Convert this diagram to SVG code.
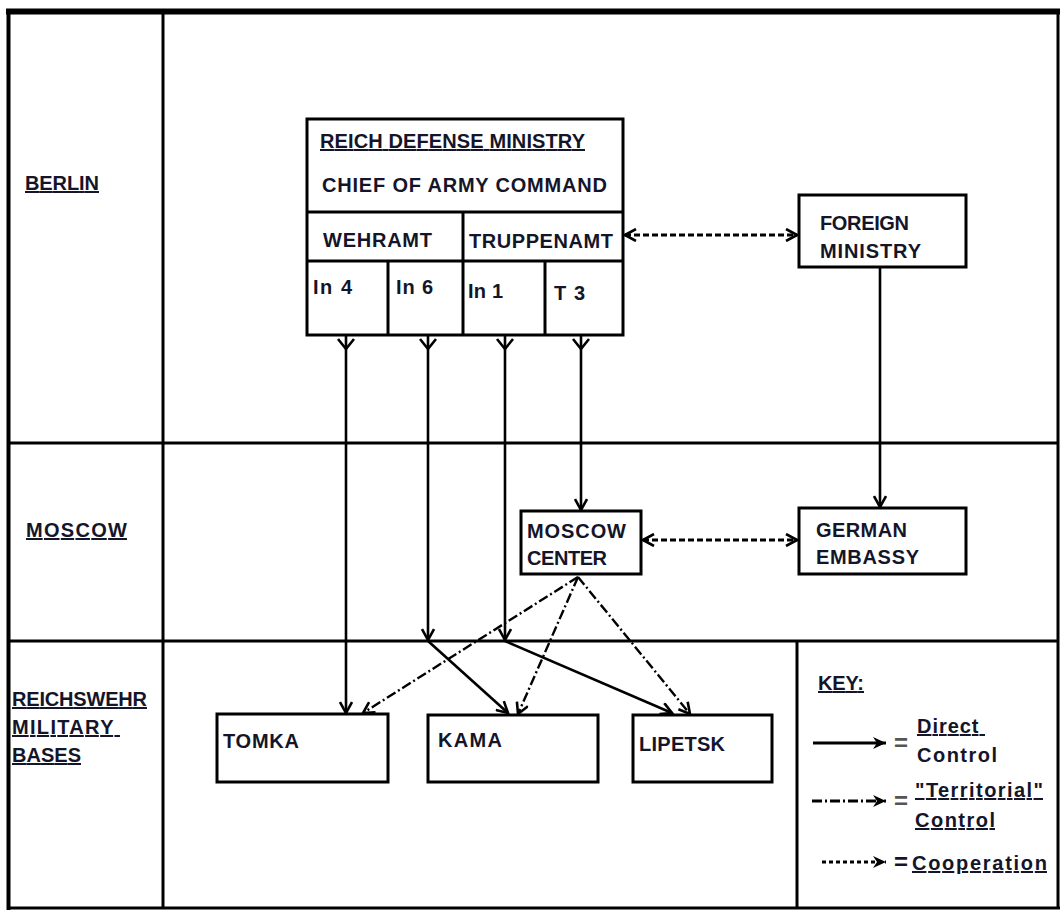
<svg xmlns="http://www.w3.org/2000/svg" width="1062" height="914" viewBox="0 0 1062 914">
<defs>
<style>
.t{font-family:"Liberation Sans",Arial,sans-serif;font-weight:bold;font-size:20px;fill:#15152a}
.u{text-decoration:underline}
.frame{stroke:#000;stroke-width:3;fill:none}
.box{fill:#fff;stroke:#000;stroke-width:3}
.solid{stroke:#000;stroke-width:2.6;fill:none}
.tdash{stroke:#000;stroke-width:2.4;fill:none;stroke-dasharray:10 3 2 3}
.coop{stroke:#000;stroke-width:2.8;fill:none;stroke-dasharray:6 3}
</style>
<marker id="ah" markerUnits="userSpaceOnUse" markerWidth="14" markerHeight="14" viewBox="0 0 14 14" refX="12" refY="7" orient="auto-start-reverse">
<path d="M1,1 L12,7 L1,13" fill="none" stroke="#000" stroke-width="2.6"/>
</marker>
<marker id="kf" markerUnits="userSpaceOnUse" markerWidth="14" markerHeight="14" viewBox="0 0 14 14" refX="13" refY="7" orient="auto">
<path d="M0,1 L13,7 L0,13 L4,7 z" fill="#000"/>
</marker>
</defs>
<rect width="1062" height="914" fill="#fff"/>

<g id="frame">
<line class="frame" x1="6" y1="11.5" x2="1060" y2="11.5" style="stroke-width:6"/>
<line class="frame" x1="8.5" y1="9" x2="8.5" y2="910" style="stroke-width:4"/>
<line class="frame" x1="1058" y1="9" x2="1058" y2="909"/>
<line class="frame" x1="7" y1="908" x2="1060" y2="908"/>
<line class="frame" x1="163" y1="12" x2="163" y2="908"/>
<line class="frame" x1="8" y1="443" x2="1058" y2="443"/>
<line class="frame" x1="8" y1="641" x2="1058" y2="641"/>
<line class="frame" x1="797" y1="641" x2="797" y2="908"/>
</g>

<g id="row-labels">
<text class="t u" x="25" y="190" textLength="74">BERLIN</text>
<text class="t u" x="26" y="537" textLength="101">MOSCOW</text>
<text class="t u" x="12" y="706" textLength="135">REICHSWEHR</text>
<text class="t u" x="12" y="734" textLength="108" xml:space="preserve">MILITARY </text>
<text class="t u" x="12" y="762" textLength="69">BASES</text>
</g>

<g id="reich-defense-ministry">
<rect class="box" x="307" y="119" width="316" height="216"/>
<line class="frame" x1="307" y1="212" x2="623" y2="212"/>
<line class="frame" x1="307" y1="261" x2="623" y2="261"/>
<line class="frame" x1="463" y1="212" x2="463" y2="335"/>
<line class="frame" x1="388" y1="261" x2="388" y2="335"/>
<line class="frame" x1="545" y1="261" x2="545" y2="335"/>
<text class="t u" x="320" y="148" textLength="265">REICH DEFENSE MINISTRY</text>
<text class="t" x="322" y="192" textLength="285">CHIEF OF ARMY COMMAND</text>
<text class="t" x="323" y="247" textLength="109">WEHRAMT</text>
<text class="t" x="469" y="248" textLength="144">TRUPPENAMT</text>
<text class="t" x="313" y="294" textLength="39">In 4</text>
<text class="t" x="396" y="294" textLength="37">In 6</text>
<text class="t" x="468" y="298" textLength="35">In 1</text>
<text class="t" x="554" y="300" textLength="31">T 3</text>
</g>

<g id="foreign-ministry">
<rect class="box" x="799" y="195" width="167" height="72"/>
<text class="t" x="820" y="230" textLength="89">FOREIGN</text>
<text class="t" x="820" y="258" textLength="101">MINISTRY</text>
</g>

<g id="german-embassy">
<rect class="box" x="799" y="508" width="167" height="66"/>
<text class="t" x="816" y="537" textLength="91">GERMAN</text>
<text class="t" x="816" y="564" textLength="103">EMBASSY</text>
</g>

<g id="moscow-center">
<rect class="box" x="521" y="511" width="120" height="63"/>
<text class="t" x="527" y="538" textLength="99">MOSCOW</text>
<text class="t" x="527" y="565" textLength="80">CENTER</text>
</g>

<g id="tomka">
<rect class="box" x="217" y="714" width="171" height="68"/>
<text class="t" x="223" y="748" textLength="76">TOMKA</text>
</g>
<g id="kama">
<rect class="box" x="428" y="715" width="170" height="67"/>
<text class="t" x="438" y="747" textLength="64">KAMA</text>
</g>
<g id="lipetsk">
<rect class="box" x="633" y="715" width="139" height="67"/>
<text class="t" x="639" y="751" textLength="86">LIPETSK</text>
</g>

<g id="connectors">
<line class="solid" x1="346" y1="336" x2="346" y2="713" marker-end="url(#ah)"/>
<line class="solid" x1="428" y1="336" x2="428" y2="640" marker-end="url(#ah)"/>
<line class="solid" x1="428" y1="641" x2="508" y2="713" marker-end="url(#ah)"/>
<line class="solid" x1="505" y1="336" x2="505" y2="640" marker-end="url(#ah)"/>
<line class="solid" x1="505" y1="641" x2="672" y2="713" marker-end="url(#ah)"/>
<line class="solid" x1="581" y1="336" x2="581" y2="510" marker-end="url(#ah)"/>
<path class="solid" d="M338,339 L346,349 L354,339 M420,339 L428,349 L436,339 M497,339 L505,349 L513,339 M573,339 L581,349 L589,339"/>
<line class="solid" x1="880" y1="267" x2="880" y2="507" marker-end="url(#ah)"/>
<line class="coop" x1="625" y1="235" x2="797" y2="235" marker-start="url(#ah)" marker-end="url(#ah)"/>
<line class="coop" x1="643" y1="540" x2="797" y2="540" marker-start="url(#ah)" marker-end="url(#ah)"/>
<line class="tdash" x1="578" y1="577" x2="363" y2="713" marker-end="url(#ah)"/>
<line class="tdash" x1="578" y1="577" x2="518" y2="714" marker-end="url(#ah)"/>
<line class="tdash" x1="578" y1="577" x2="690" y2="714" marker-end="url(#ah)"/>
</g>

<g id="key">
<text class="t u" x="818" y="690" textLength="46">KEY:</text>
<line class="solid" x1="813" y1="743" x2="886" y2="743" style="stroke-width:3.2" marker-end="url(#kf)"/>
<text class="t" x="894" y="751" style="fill:#555;font-size:24px">=</text>
<text class="t u" x="917" y="733" textLength="68" xml:space="preserve">Direct </text>
<text class="t" x="917" y="762" textLength="80">Control</text>
<line class="tdash" x1="812" y1="801" x2="886" y2="801" style="stroke-width:3.2" marker-end="url(#kf)"/>
<text class="t" x="894" y="809" style="fill:#555;font-size:24px">=</text>
<text class="t u" x="915" y="797" textLength="128">"Territorial"</text>
<text class="t u" x="915" y="827" textLength="80">Control</text>
<line class="coop" x1="822" y1="862" x2="886" y2="862" style="stroke-width:3.2;stroke-dasharray:4 3" marker-end="url(#kf)"/>
<text class="t" x="894" y="870" style="font-size:24px">=</text>
<text class="t u" x="912" y="870" textLength="135">Cooperation</text>
</g>
</svg>
